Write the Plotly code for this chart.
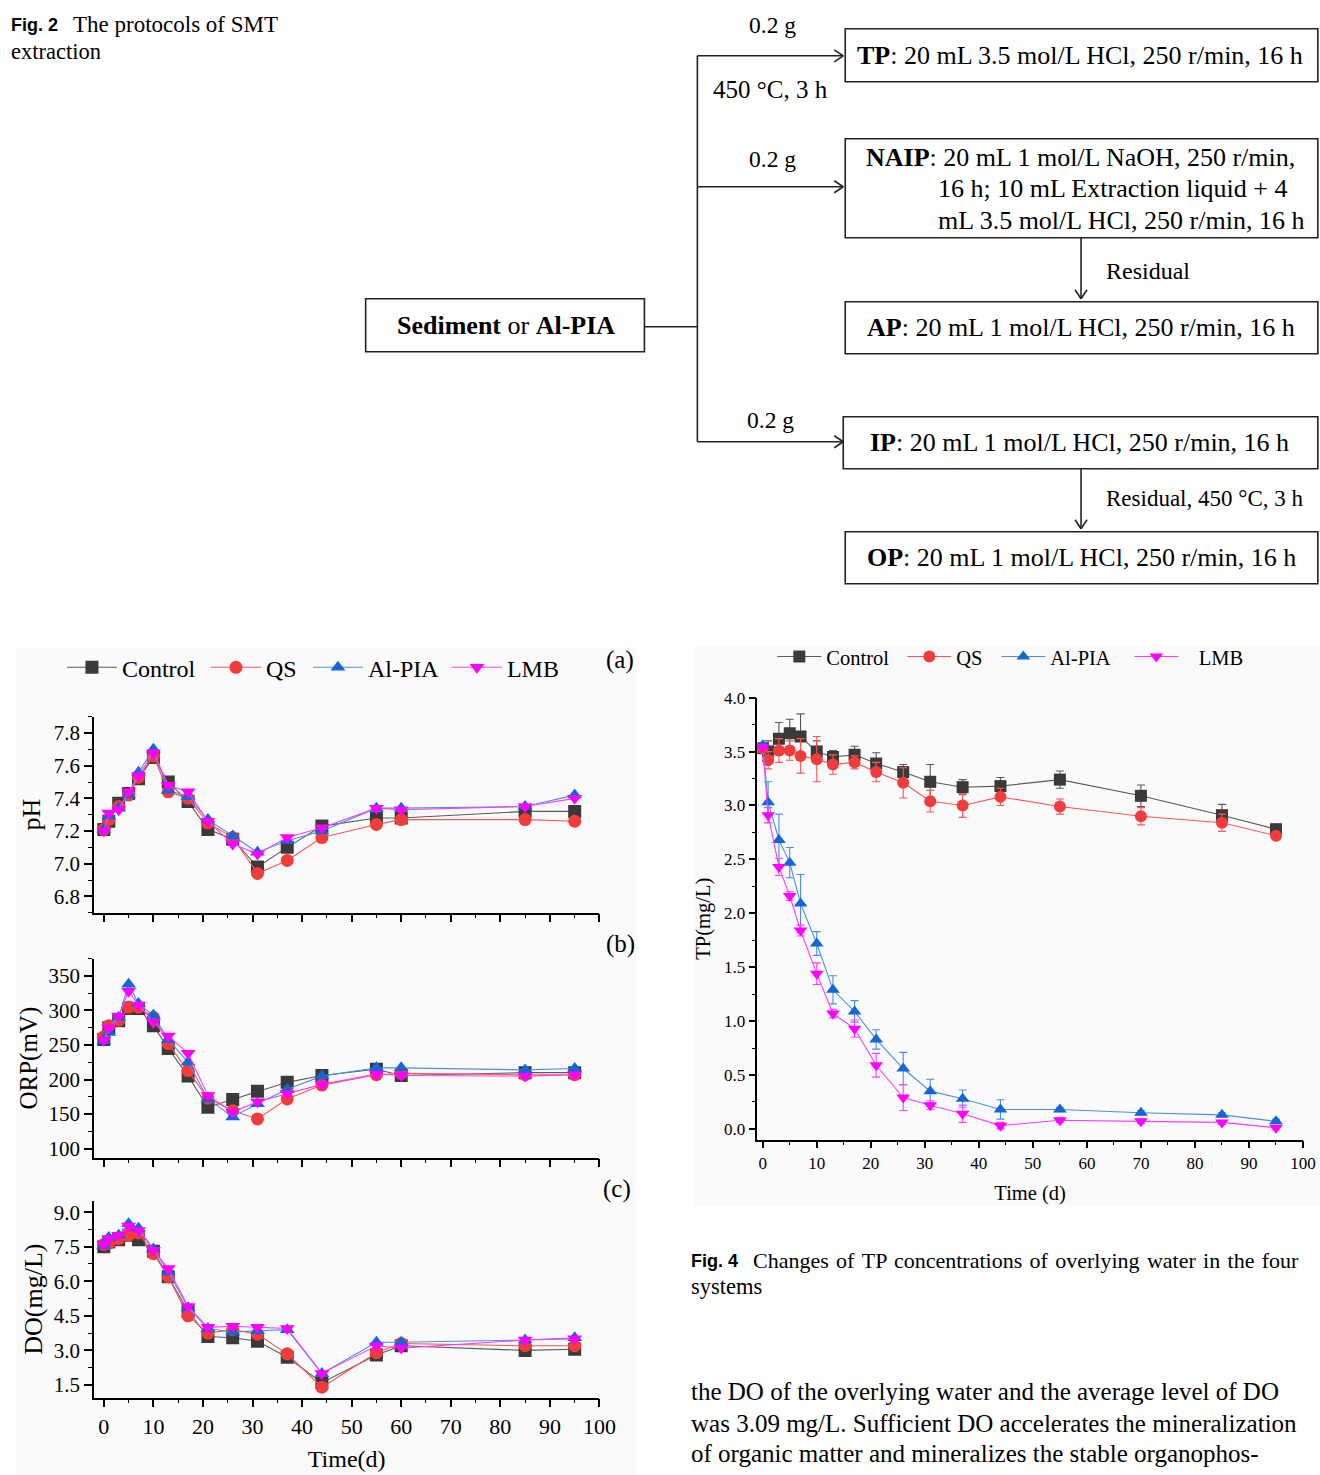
import plotly.graph_objects as go

# ---------------------------------------------------------------- data
# sampling days of the water-quality panels (a)-(c)
days_wq = [0, 1, 3, 5, 7, 10, 13, 17, 21, 26, 31, 37, 44, 55, 60, 85, 95]

ph_control = [7.21, 7.26, 7.37, 7.43, 7.52, 7.65, 7.50, 7.38, 7.21, 7.15, 6.98, 7.10, 7.23, 7.28, 7.28, 7.32, 7.32]
ph_qs      = [7.21, 7.27, 7.35, 7.42, 7.53, 7.66, 7.44, 7.40, 7.25, 7.16, 6.94, 7.02, 7.16, 7.24, 7.27, 7.27, 7.26]
ph_alpia   = [7.21, 7.29, 7.34, 7.42, 7.56, 7.70, 7.45, 7.41, 7.27, 7.17, 7.07, 7.14, 7.20, 7.34, 7.34, 7.35, 7.42]
ph_lmb     = [7.20, 7.31, 7.33, 7.44, 7.54, 7.68, 7.48, 7.44, 7.26, 7.12, 7.06, 7.16, 7.22, 7.34, 7.33, 7.35, 7.40]

orp_control = [258, 275, 285, 303, 303, 278, 245, 205, 160, 171, 183, 196, 206, 215, 206, 210, 210]
orp_qs      = [262, 278, 286, 305, 305, 290, 252, 213, 173, 155, 143, 172, 192, 207, 209, 207, 207]
orp_alpia   = [256, 268, 290, 338, 310, 293, 258, 225, 172, 146, 165, 186, 205, 217, 217, 214, 216]
orp_lmb     = [257, 275, 292, 328, 308, 283, 263, 238, 177, 153, 168, 180, 193, 208, 206, 205, 207]

do_control = [7.50, 7.70, 7.80, 8.00, 7.80, 7.30, 6.20, 4.70, 3.60, 3.55, 3.40, 2.70, 1.60, 2.80, 3.20, 3.00, 3.05]
do_qs      = [7.60, 7.65, 7.85, 8.00, 8.10, 7.20, 6.20, 4.50, 3.75, 3.90, 3.70, 2.85, 1.40, 2.90, 3.30, 3.20, 3.20]
do_alpia   = [7.55, 7.90, 8.00, 8.50, 8.30, 7.40, 6.40, 4.85, 3.95, 3.80, 3.85, 3.90, 2.00, 3.35, 3.35, 3.45, 3.55]
do_lmb     = [7.60, 7.85, 8.00, 8.40, 8.20, 7.35, 6.55, 4.90, 4.00, 4.05, 4.00, 3.95, 2.00, 3.20, 3.10, 3.45, 3.50]

# sampling days of the TP series (Fig. 4)
days_tp = [0, 1, 3, 5, 7, 10, 13, 17, 21, 26, 31, 37, 44, 55, 70, 85, 95]

tp_control = [3.53, 3.50, 3.62, 3.67, 3.64, 3.50, 3.45, 3.47, 3.39, 3.31, 3.22, 3.17, 3.18, 3.24, 3.09, 2.91, 2.78]
tp_qs      = [3.53, 3.42, 3.51, 3.51, 3.46, 3.43, 3.38, 3.40, 3.31, 3.21, 3.04, 3.00, 3.08, 2.99, 2.90, 2.84, 2.72]
tp_alpia   = [3.56, 3.03, 2.68, 2.47, 2.09, 1.72, 1.29, 1.09, 0.83, 0.56, 0.35, 0.28, 0.18, 0.18, 0.15, 0.13, 0.07]
tp_lmb     = [3.54, 2.91, 2.43, 2.16, 1.84, 1.44, 1.07, 0.93, 0.59, 0.29, 0.22, 0.14, 0.03, 0.08, 0.07, 0.06, 0.01]

tp_control_sd = [0.02, 0.10, 0.15, 0.13, 0.21, 0.10, 0.06, 0.08, 0.10, 0.07, 0.16, 0.07, 0.08, 0.08, 0.10, 0.10, 0.03]
tp_qs_sd      = [0.02, 0.08, 0.11, 0.09, 0.16, 0.21, 0.09, 0.06, 0.09, 0.14, 0.10, 0.11, 0.08, 0.07, 0.08, 0.08, 0.02]
tp_alpia_sd   = [0.02, 0.19, 0.24, 0.14, 0.27, 0.11, 0.13, 0.10, 0.09, 0.15, 0.11, 0.08, 0.09, 0.02, 0.02, 0.02, 0.02]
tp_lmb_sd     = [0.02, 0.07, 0.08, 0.04, 0.05, 0.10, 0.04, 0.08, 0.11, 0.12, 0.04, 0.08, 0.03, 0.02, 0.02, 0.02, 0.02]

groups = ["Control", "QS", "Al-PIA", "LMB"]
tp_legend_names = ["Control", "QS", "Al-PIA", "\u00a0\u00a0\u00a0LMB"]
x_ticks = [0, 10, 20, 30, 40, 50, 60, 70, 80, 90, 100]

# ---------------------------------------------------------------- style
W, H = 1320, 1475
SERIF = "Liberation Serif, Times New Roman, serif"
SANS = "Liberation Sans, Arial, sans-serif"

marker_col = {"Control": "#3a3a3a", "QS": "#f23b3b", "Al-PIA": "#1466d6", "LMB": "#ff00ff"}
line_col = {"Control": "#5a5a5a", "QS": "#ff5555", "Al-PIA": "#4a8fe4", "LMB": "#ff3cff"}
symbol = {"Control": "square", "QS": "circle", "Al-PIA": "triangle-up", "LMB": "triangle-down"}
# horizontal room given to each legend entry's label
left_entry_w = {"Control": 79, "QS": 37, "Al-PIA": 74, "LMB": 60}
right_entry_w = {"Control": 71, "QS": 35, "Al-PIA": 74, "LMB": 56}

# layout grid: page-pixel positions -> paper fractions
XS, XO = 0.988, -1.0
YS, YO = 0.992, 8.2


def px(x):
    return (x - XO) / XS / W


def py(y):
    return 1 - (y - YO) / YS / H


fig = go.Figure()

# ---------------------------------------------------------------- panels (a)-(c)
panels = [
    ("x", "y", [ph_control, ph_qs, ph_alpia, ph_lmb]),
    ("x2", "y2", [orp_control, orp_qs, orp_alpia, orp_lmb]),
    ("x3", "y3", [do_control, do_qs, do_alpia, do_lmb]),
]
for p_i, (xa, ya, series) in enumerate(panels):
    for g, vals in zip(groups, series):
        fig.add_trace(go.Scatter(
            x=days_wq, y=vals, name=g, mode="lines+markers",
            xaxis=xa, yaxis=ya, legend="legend",
            showlegend=(p_i == 0), legendwidth=left_entry_w[g],
            line=dict(color=line_col[g], width=1.1),
            marker=dict(symbol=symbol[g], size=13, color=marker_col[g]),
        ))

# ---------------------------------------------------------------- TP panel
for g, nm, vals, sd in zip(groups, tp_legend_names,
                           [tp_control, tp_qs, tp_alpia, tp_lmb],
                           [tp_control_sd, tp_qs_sd, tp_alpia_sd, tp_lmb_sd]):
    fig.add_trace(go.Scatter(
        x=days_tp, y=vals, name=nm, mode="lines+markers",
        xaxis="x4", yaxis="y4", legend="legend2", legendwidth=right_entry_w[g],
        line=dict(color=line_col[g], width=1.1),
        marker=dict(symbol=symbol[g], size=12, color=marker_col[g]),
        error_y=dict(type="data", array=sd, visible=True, color=line_col[g],
                     thickness=1.1, width=4),
    ))

# ---------------------------------------------------------------- axes
def axis_common(size):
    return dict(
        showline=True, linecolor="black", linewidth=1.6, mirror=False,
        showgrid=False, zeroline=False,
        ticks="outside", ticklen=8, tickwidth=1.5, tickcolor="black",
        tickfont=dict(family=SERIF, size=size, color="black"),
    )


def minor(step, start=0):
    return dict(dtick=step, tick0=start, ticks="outside", ticklen=4,
                tickwidth=1.2, tickcolor="black")


left_x = [px(93), px(599)]
for name, show_lbl in [("xaxis", False), ("xaxis2", False), ("xaxis3", True)]:
    ax = axis_common(22)
    ax.update(domain=left_x, range=[-2, 100], tickvals=x_ticks,
              showticklabels=show_lbl, minor=minor(5))
    if name == "xaxis2":
        ax["anchor"] = "y2"
    if name == "xaxis3":
        ax["anchor"] = "y3"
        ax["title"] = dict(text="Time(d)", font=dict(family=SERIF, size=24, color="black"),
                           standoff=12)
    fig.layout[name] = ax

ya = axis_common(21)
ya.update(domain=[py(912), py(716)], range=[6.7, 7.9], dtick=0.2, tick0=6.8,
          tickformat=".1f", minor=minor(0.1, 6.8),
          title=dict(text="pH", font=dict(family=SERIF, size=26, color="black"), standoff=6))
fig.layout.yaxis = ya

ya2 = axis_common(21)
ya2.update(domain=[py(1157), py(958)], range=[87, 375], dtick=50, tick0=100, anchor="x2",
           minor=minor(25, 100),
           title=dict(text="ORP(mV)", font=dict(family=SERIF, size=25, color="black"), standoff=4))
fig.layout.yaxis2 = ya2

ya3 = axis_common(21)
ya3.update(domain=[py(1397), py(1200)], range=[0.95, 9.5], dtick=1.5, tick0=1.5, anchor="x3",
           tickformat=".1f", minor=minor(0.75, 1.5),
           title=dict(text="DO(mg/L)", font=dict(family=SERIF, size=26, color="black"), standoff=4))
fig.layout.yaxis3 = ya3

xa4 = axis_common(17)
xa4.update(domain=[px(757), min(1.0, px(1306))], range=[-1, 100], tickvals=x_ticks, anchor="y4",
           ticklen=7, minor=minor(5),
           title=dict(text="Time (d)", font=dict(family=SERIF, size=20.5, color="black"), standoff=14))
fig.layout.xaxis4 = xa4

ya4 = axis_common(17)
ya4.update(domain=[py(1139), py(697)], range=[-0.1, 4.0], dtick=0.5, tick0=0, anchor="x4",
           tickformat=".1f", ticklen=7, minor=minor(0.25),
           title=dict(text="TP(mg/L)", font=dict(family=SERIF, size=20.5, color="black"), standoff=8))
fig.layout.yaxis4 = ya4

# ---------------------------------------------------------------- legends
fig.update_layout(
    legend=dict(orientation="h", x=px(61), y=py(667), xanchor="left", yanchor="middle",
                font=dict(family=SERIF, size=24, color="black"), bgcolor="rgba(0,0,0,0)",
                itemwidth=50, tracegroupgap=0),
    legend2=dict(orientation="h", x=px(772), y=py(656), xanchor="left", yanchor="middle",
                 font=dict(family=SERIF, size=20.5, color="black"), bgcolor="rgba(0,0,0,0)",
                 itemwidth=44),
)

# ---------------------------------------------------------------- background panels
shapes = [
    dict(type="rect", xref="paper", yref="paper", x0=px(15), x1=px(635), y0=py(1475), y1=py(647),
         fillcolor="#fafafa", line=dict(width=0), layer="below"),
    dict(type="rect", xref="paper", yref="paper", x0=px(693), x1=px(1320), y0=py(1205), y1=py(645),
         fillcolor="#fafafa", line=dict(width=0), layer="below"),
]

# ---------------------------------------------------------------- flowchart (Fig. 2)
LINE = dict(color="#222222", width=1.6)
BOX_RIGHT = 1318


def box(x0, y0, x1, y1):
    shapes.append(dict(type="rect", xref="paper", yref="paper",
                       x0=px(x0), x1=px(x1), y0=py(y1), y1=py(y0),
                       line=LINE, fillcolor="white"))


def seg(x0, y0, x1, y1):
    shapes.append(dict(type="line", xref="paper", yref="paper",
                       x0=px(x0), x1=px(x1), y0=py(y0), y1=py(y1), line=LINE))


def arrow_right(x0, x1, y):
    seg(x0, y, x1, y)
    seg(x1 - 9, y - 6, x1, y)
    seg(x1 - 9, y + 6, x1, y)


def arrow_down(x, y0, y1):
    seg(x, y0, x, y1)
    seg(x - 6, y1 - 9, x, y1)
    seg(x + 6, y1 - 9, x, y1)


box(365, 298, 644, 351)
seg(644, 326, 697, 326)
seg(697, 55, 697, 441)
arrow_right(697, 843, 55)
arrow_right(697, 843, 186)
arrow_right(697, 843, 441)
box(845, 28, BOX_RIGHT, 81)
box(845, 138, BOX_RIGHT, 237)
arrow_down(1081, 237, 298)
box(845, 301, BOX_RIGHT, 353)
box(843, 416, BOX_RIGHT, 468)
arrow_down(1081, 468, 528)
box(845, 531, BOX_RIGHT, 583)

fig.update_layout(shapes=shapes)

annotations = []


def text(x, y, s, size=26, anchor="left", family=SERIF, angle=0):
    annotations.append(dict(xref="paper", yref="paper", x=px(x), y=py(y), text=s,
                            showarrow=False, xanchor=anchor, yanchor="middle",
                            textangle=angle,
                            font=dict(family=family, size=size, color="black")))


# captions
text(8, 24, "<b>Fig. 2</b>", size=18, family=SANS)
text(70, 24, "The protocols of SMT", size=23)
text(8, 51, "extraction", size=22.5)

# flowchart labels
text(505, 325, "<b>Sediment</b> or <b>Al-PIA</b>", size=26, anchor="center")
text(772, 24, "0.2 g", size=23.5, anchor="center")
text(770, 89, "450 °C, 3 h", size=25, anchor="center")
text(772, 158, "0.2 g", size=23.5, anchor="center")
text(770, 419, "0.2 g", size=23.5, anchor="center")
text(855, 55, "<b>TP</b>: 20 mL 3.5 mol/L HCl, 250 r/min, 16 h")
text(864, 157, "<b>NAIP</b>: 20 mL 1 mol/L NaOH, 250 r/min,")
text(936, 188, "16 h; 10 mL Extraction liquid + 4")
text(936, 220, "mL 3.5 mol/L HCl, 250 r/min, 16 h")
text(1104, 270, "Residual", size=24)
text(865, 327, "<b>AP</b>: 20 mL 1 mol/L HCl, 250 r/min, 16 h")
text(868, 442, "<b>IP</b>: 20 mL 1 mol/L HCl, 250 r/min, 16 h")
text(1104, 498, "Residual, 450 °C, 3 h", size=23)
text(865, 557, "<b>OP</b>: 20 mL 1 mol/L HCl, 250 r/min, 16 h")

# panel tags
text(620, 659, "(a)", size=25, anchor="center")
text(620, 943, "(b)", size=25, anchor="center")
text(617, 1188, "(c)", size=25, anchor="center")

# Fig. 4 caption (justified spacing) and running text
text(689, 1260, "<b>Fig. 4</b>", size=18, family=SANS)
caption4 = "Changes of TP concentrations of overlying water in the four"
text(751, 1260, caption4.replace(" ", " \u200a"), size=22)
text(689, 1286, "systems", size=22.5)
text(689, 1391, "the DO of the overlying water and the average level of DO", size=25)
text(689, 1423, "was 3.09 mg/L. Sufficient DO accelerates the mineralization", size=25)
text(689, 1453, "of organic matter and mineralizes the stable organophos-", size=25)

fig.update_layout(
    annotations=annotations,
    width=W, height=H,
    margin=dict(l=0, r=0, t=0, b=0),
    paper_bgcolor="white", plot_bgcolor="rgba(0,0,0,0)",
    font=dict(family=SERIF, color="black"),
)

# page body without the browser's default margin so the figure sits at the origin
fig.write_html("out.html", post_script="document.body.style.margin='0px';")
